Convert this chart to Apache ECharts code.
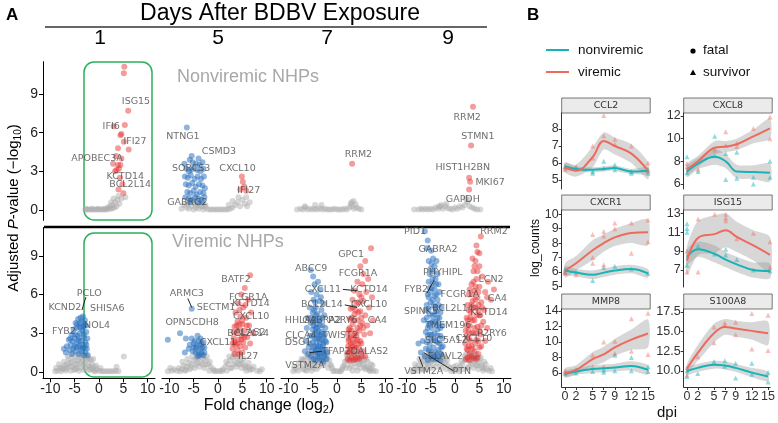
<!DOCTYPE html>
<html><head><meta charset="utf-8">
<script src="https://cdn.jsdelivr.net/npm/echarts@6/dist/echarts.min.js"></script>
<style>html,body{margin:0;padding:0;background:#fff}#c{width:778px;height:423px}</style>
</head><body><div id="c"></div>
<script>
// ---------------- Panel A data (volcano plots) ----------------
const volcanoDays = ['1','5','7','9'];
const volcanoXTicks = [-10,-5,0,5,10];
const volcanoYTicks = [0,3,6,9];

// Nonviremic, day 1
const n1Gray = [[-2.8,0.05],[-2.4,0.05],[-2,0.05],[-1.6,0.05],[-1.2,0.05],[-0.8,0.05],[-0.4,0.05],[0,0.05],[0.4,0.05],[0.8,0.05],[1.2,0.05],[1.6,0.05],[2,0.1],[2.4,0.1],[2.8,0.15],[3.2,0.2],[3.6,0.3],[2.2,0.3],[2.8,0.4],[3.3,0.6],[3.8,0.8],[4.2,0.5],[4.6,0.9],[2.5,0.6],[3,0.9],[4,1.1],[5.4,1.0],[1.8,0.2],[-2.6,0.1],[-1.4,0.1],[-0.2,0.1],[1.0,0.1]];
const n1Blue = [];
const n1Red = [[5.2,11.1],[5.1,10.6],[6,7.7],[5.3,6.6],[3.0,6.5],[4.6,5.9],[4.4,5.8],[5.1,5.3],[6.1,4.7],[3.9,4.8],[4.6,4.0],[4.4,3.5],[3.9,3.5],[3.6,3.1],[3.3,3.0],[4.3,2.5],[4.8,2.0],[4,1.6],[5.0,1.3],[2.9,3.6],[4.1,3.2],[3.5,4.2]];
const n1Labels = [[7.6,8.4,'ISG15'],[2.5,6.5,'IFI6'],[7.4,5.3,'IFI27'],[-0.4,4.0,'APOBEC3A'],[5.4,2.6,'KCTD14'],[6.4,2.0,'BCL2L14']];

// Nonviremic, day 5
const n5Gray = [[-7,0.4],[-6.5,0.2],[-6,0.1],[-5.5,0.3],[-5,0.05],[-4.5,0.2],[-4,0.1],[-3.5,0.3],[-3,0.05],[-2.5,0.2],[-2,0.05],[-1.5,0.05],[-1,0.05],[-0.5,0.05],[0,0.05],[0.5,0.05],[1,0.05],[1.5,0.05],[2,0.05],[2.5,0.1],[3,0.2],[3.5,0.4],[4,0.6],[4.5,0.3],[5,0.8],[5.5,0.5],[6,0.3],[6.5,0.6],[3,0.7],[4.2,1.0],[5.8,1.0],[2.2,0.4],[-6.2,0.5],[-5.3,0.6],[-4.8,0.5],[-4.3,0.4],[-3.8,0.5],[-3.2,0.3],[-2.6,0.4],[-7.5,0.1]];
const n5Blue = [[-6.4,6.4],[-5.8,3.9],[-5.2,3.7],[-4.5,3.6],[-3.8,3.5],[-3.2,3.7],[-6.5,3.2],[-6,3.0],[-5.5,3.1],[-5,3.3],[-4.3,3.1],[-3.6,3.0],[-3,3.2],[-6.8,2.6],[-6.2,2.5],[-5.6,2.7],[-4.8,2.4],[-4.2,2.6],[-3.5,2.4],[-2.9,2.6],[-6.6,2.0],[-6,1.9],[-5.3,2.1],[-4.6,1.8],[-3.9,2.0],[-3.2,1.9],[-2.7,1.7],[-6.3,1.4],[-5.7,1.3],[-5,1.5],[-4.4,1.2],[-3.7,1.4],[-3,1.3],[-6.7,1.0],[-6,0.9],[-5.3,0.8],[-4.7,1.0],[-4,0.9],[-3.4,0.8],[-2.8,1.0],[-5.8,0.6],[-4.2,0.6],[-3.2,0.6],[-6.9,3.6],[-4,4.0],[-5.4,4.2]];
const n5Red = [[4.9,2.6],[5.1,2.2],[5.4,1.8],[4.6,1.6],[5.8,1.5]];
const n5Labels = [[-7.2,5.7,'NTNG1'],[0.2,4.5,'CSMD3'],[-5.5,3.2,'SORCS3'],[4.0,3.2,'CXCL10'],[6.3,1.5,'IFI27'],[-6.3,0.6,'GABRG2']];

// Nonviremic, day 7
const n7Gray = [[-8.2,0.05],[-7.5,0.1],[-7,0.05],[-6.5,0.2],[-6,0.05],[-5.5,0.1],[-5,0.05],[-4.5,0.1],[-4,0.05],[-3.5,0.15],[-3,0.05],[-2.5,0.1],[-2,0.05],[-1.5,0.05],[-1,0.05],[-0.5,0.1],[0,0.05],[0.5,0.05],[1,0.05],[1.5,0.1],[2,0.05],[2.5,0.2],[3,0.3],[3.5,0.1],[4,0.2],[4.5,0.1],[5,0.05],[3,0.6],[3.4,0.7],[2.8,0.5],[-4.5,0.4],[-3.2,0.4],[-6.6,0.3],[3.8,0.45]];
const n7Blue = [];
const n7Red = [[3.1,3.6]];
const n7Labels = [[4.4,4.3,'RRM2']];

// Nonviremic, day 9
const n9Gray = [[-8.4,0.05],[-7.5,0.05],[-7,0.1],[-6.5,0.05],[-6,0.1],[-5.5,0.05],[-5,0.1],[-4.5,0.05],[-4,0.2],[-3.5,0.1],[-3,0.25],[-2.5,0.1],[-2,0.3],[-1.5,0.15],[-1,0.1],[-0.5,0.05],[0,0.2],[0.5,0.1],[1,0.3],[1.5,0.2],[2,0.4],[2.5,0.6],[3,0.3],[3.5,0.2],[4,0.1],[4.5,0.05],[5.2,0.05],[-2.8,0.4],[-1.8,0.5],[2.2,0.9],[2.7,0.8],[-3.3,0.3]];
const n9Blue = [];
const n9Red = [[3.7,8.0],[3.3,5.0],[2.9,2.5],[3.1,2.2],[2.9,1.6]];
const n9Labels = [[2.5,7.2,'RRM2'],[4.7,5.7,'STMN1'],[1.6,3.3,'HIST1H2BN'],[7.2,2.1,'MKI67'],[1.6,0.85,'GAPDH']];

// Viremic, day 1
const v1Gray = [[-8.5,0.1],[-8,0.3],[-7.5,0.2],[-7,0.5],[-6.5,0.3],[-6,0.7],[-5.5,0.4],[-5,0.9],[-4.5,0.6],[-4,1.1],[-3.5,0.8],[-3,1.2],[-2.5,0.9],[-2,1.0],[-1.5,0.6],[-1,0.4],[-0.5,0.2],[0,0.1],[0.5,0.05],[1,0.05],[1.5,0.05],[2,0.05],[2.5,0.05],[3,0.05],[3.5,0.1],[4,0.05],[-7.8,0.05],[-6.8,0.1],[-5.8,0.1],[-4.8,0.2],[-3.8,0.3],[-2.8,0.3],[-1.8,0.2],[-0.8,0.05],[-6.2,1.0],[-5.2,1.2],[-4.2,1.3],[-3.2,0.5],[-2.2,0.5],[-4.6,0.3],[-5.6,0.8],[-6.6,0.6],[-3.6,1.4],[5.1,1.2],[3.6,0.4],[-1.2,1.0],[-2.6,1.3],
  [-8.2,0.6],[-7.2,0.8],[-6.4,1.2],[-5.4,1.4],[-4.4,0.9],[-3.4,1.0],[-2.4,1.1],[-1.6,0.9],[-0.6,0.5],[-7.6,0.35],[-6.9,0.25],[-5.9,0.45],[-4.9,0.55],[-3.9,0.65],[-2.9,0.7],[-1.9,0.4],[-1.3,0.25],[0.3,0.3],[-9,0.05],[-8.8,0.3],[-5.1,0.15],[-4.1,0.1],[-3.1,0.15],[-2.1,0.15],[-1.1,0.1]];
const v1Blue = [[-3.3,4.3],[-3.8,4.2],[-4.3,4.1],[-2.9,4.0],[-3.5,3.9],[-4.8,3.8],[-3,3.6],[-4,3.5],[-4.6,3.4],[-5.2,3.3],[-3.4,3.2],[-3.9,3.0],[-2.6,3.1],[-5.6,2.9],[-4.4,2.8],[-3.1,2.7],[-5,2.6],[-6.2,2.5],[-3.7,2.4],[-2.8,2.3],[-4.6,2.2],[-5.8,2.1],[-6.6,2.0],[-4,2.0],[-3.3,1.9],[-2.5,1.8],[-5.3,1.8],[-6,1.7],[-4.8,1.6],[-3.6,1.6],[-2.8,1.5],[-6.8,1.5],[-5.6,1.4],[-4.2,1.4],[-3.1,1.3],[-2.3,1.3],[-7.2,1.8],[-5.4,2.4],[-4.1,2.6],[-2.4,2.6],
  [-4.5,3.7],[-3.7,3.4],[-3.1,2.9],[-4.2,2.4],[-3.5,2.1],[-2.9,1.9],[-4.6,1.9],[-5.0,2.0],[-3.8,1.8],[-2.6,2.1],[-5.9,2.6],[-4.9,2.9],[-3.2,3.5],[-2.7,3.6],[-3.9,3.8]];
const v1Red = [];
const v1Labels = [[-2.0,6.1,'PCLO'],[-7.0,5.0,'KCND2'],[1.7,4.9,'SHISA6'],[-7.2,3.1,'FYB2'],[-0.4,3.6,'NOL4']];

// Viremic, day 5
const v5Gray = [[-10.3,0.05],[-9.5,0.1],[-9,0.2],[-8.5,0.1],[-8,0.3],[-7.5,0.2],[-7,0.5],[-6.5,0.4],[-6,0.7],[-5.5,0.6],[-5,0.9],[-4.5,1.0],[-4,1.1],[-3.5,1.2],[-3,1.0],[-2.5,0.9],[-2,0.6],[-1.5,0.4],[-1,0.2],[-0.5,0.1],[0,0.05],[0.5,0.1],[1,0.2],[1.5,0.4],[2,0.6],[2.5,0.9],[3,1.1],[3.5,1.2],[4,1.0],[4.5,0.9],[5,0.7],[5.5,0.5],[6,0.4],[6.5,0.3],[7,0.2],[8,0.1],[8.6,0.05],[-6.8,0.1],[-5.8,0.2],[-4.8,0.3],[-3.8,0.4],[-2.8,0.3],[-1.8,0.1],[-0.8,0.05],[0.8,0.05],[1.8,0.1],[2.8,0.3],[3.8,0.4],[4.8,0.3],[5.8,0.1],[-4.2,0.7],[-3.2,0.6],[3.2,0.6],[4.2,0.6],[-7.8,0.05],
  [-7.3,0.8],[-6.3,1.0],[-5.3,1.2],[-4.3,1.4],[-3.3,1.5],[-2.3,1.2],[-1.7,0.8],[-6.6,0.15],[-5.6,0.35],[-4.6,0.55],[-3.6,0.75],[-2.6,0.55],[1.7,0.8],[2.3,1.2],[3.3,1.4],[4.3,1.3],[5.3,1.0],[6.3,0.7],[7.3,0.4],[2.6,0.3],[3.6,0.7],[4.6,0.6],[5.6,0.3],[6.6,0.15],[-9.8,0.3],[9.0,0.2]];
const v5Blue = [[-5.4,4.9],[-10.3,2.5],[-7.8,3.0],[-6.6,2.6],[-5.4,2.6],[-4.2,2.8],[-3.6,2.6],[-5,2.2],[-4.4,2.0],[-3.8,2.1],[-3.2,1.9],[-6.0,1.8],[-5.2,1.6],[-4.6,1.5],[-4.0,1.6],[-3.4,1.4],[-2.8,1.5],[-6.8,1.5],[-4.8,2.4],[-3.0,2.3],[-5.8,2.1],[-3.9,1.3],
  [-4.0,2.4],[-3.4,2.2],[-4.6,1.9],[-3.6,1.8],[-2.8,1.9],[-5.0,1.9],[-4.2,1.2],[-3.0,1.3]];
const v5Red = [[6.6,7.5],[5.5,6.5],[4.8,6.0],[6.2,5.6],[4.2,5.3],[5.2,5.0],[6.8,4.6],[3.6,4.6],[4.6,4.3],[5.8,4.2],[4.0,3.9],[5.0,3.7],[6.4,3.6],[3.4,3.5],[4.4,3.3],[5.5,3.2],[3.8,3.0],[4.9,2.8],[6.0,2.7],[3.2,2.6],[4.2,2.5],[5.2,2.3],[3.6,2.1],[4.6,2.0],[5.6,1.9],[3.0,1.8],[4.0,1.7],[5.0,1.5],[3.4,1.4],[4.4,1.4],[6.6,2.2],[7.2,3.0],
  [4.0,2.2],[4.8,2.5],[3.4,2.3],[5.4,2.7],[4.4,3.7],[3.8,3.6],[5.0,4.0],[4.4,4.8],[5.6,5.2],[3.2,3.1],[5.9,3.6],[3.0,2.2]];
const v5Labels = [[-6.4,6.1,'ARMC3'],[-0.4,5.0,'SECTM1'],[-8.1,3.8,'OPN5'],[-2.6,3.8,'CDH8'],[0,2.3,'CXCL11'],[3.7,7.2,'BATF2'],[6.2,5.8,'FCGR1A'],[6.8,5.3,'KCTD14'],[6.8,4.3,'CXCL10'],[6.2,3.0,'BCL2L14'],[6.6,3.05,'ALAS2'],[6.2,1.2,'IL27']];

// Viremic, day 7
const v7Gray = [[-9,0.05],[-8.5,0.2],[-8,0.1],[-7.5,0.4],[-7,0.2],[-6.5,0.6],[-6,0.4],[-5.5,0.8],[-5,0.6],[-4.5,1.0],[-4,0.8],[-3.5,1.2],[-3,1.0],[-2.5,1.3],[-2,1.0],[-1.5,0.6],[-1,0.3],[-0.5,0.1],[0,0.05],[0.5,0.05],[1,0.2],[1.5,0.5],[2,0.9],[2.5,1.2],[3,1.0],[3.5,1.3],[4,0.9],[4.5,1.1],[5,0.8],[5.5,0.6],[6,0.4],[6.5,0.3],[7,0.2],[7.5,0.1],[8,0.05],[-8.8,0.4],[-7.8,0.7],[-6.8,0.9],[-5.8,1.1],[-4.8,0.3],[-3.8,0.4],[-2.8,0.5],[-1.8,0.3],[1.8,0.3],[2.8,0.5],[3.8,0.4],[4.8,0.3],[5.8,0.2],[6.8,0.05],[-6.2,0.1],[-5.2,0.1],[-4.2,0.2],[4.2,0.1],[3.2,0.1],
  [-7.3,1.0],[-6.3,1.2],[-5.3,1.4],[-4.3,1.5],[-3.3,1.4],[-2.3,1.2],[-1.6,0.9],[-6.6,0.15],[-5.6,0.35],[-4.6,0.65],[-3.6,0.75],[-2.6,0.7],[1.6,0.8],[2.3,1.4],[3.3,1.5],[4.3,1.4],[5.3,1.2],[6.3,0.8],[7.3,0.5],[2.6,0.3],[3.6,0.7],[4.6,0.6],[5.6,0.35],[6.6,0.15],[-0.8,0.05],[0.8,0.05],[-1.2,0.5],[1.2,0.4],
  [-6.0,1.3],[-5.0,1.3],[-4.0,1.4],[-3.0,1.5],[-2.0,1.3],[2.0,1.3],[3.0,1.4],[4.0,1.5],[5.0,1.4],[6.0,1.0],[-7.0,0.9],[7.0,0.6],[-5.5,1.0],[-4.5,0.8],[-3.5,0.9],[-2.5,1.0],[2.5,0.8],[3.5,0.9],[4.5,0.7],[5.5,0.9]];
const v7Blue = [[-3.9,7.0],[-4.6,6.8],[-5.3,6.2],[-3.4,6.4],[-4.2,6.0],[-4.8,5.6],[-3.6,5.5],[-2.8,5.3],[-5.6,5.0],[-4.4,5.0],[-3.2,4.8],[-5.0,4.6],[-4.0,4.5],[-2.6,4.4],[-6.0,4.2],[-4.6,4.1],[-3.5,4.0],[-5.4,3.8],[-4.2,3.7],[-3.0,3.6],[-2.4,3.4],[-6.2,3.4],[-5.0,3.3],[-3.8,3.2],[-4.6,3.0],[-3.2,2.9],[-5.6,2.8],[-2.7,2.7],[-4.1,2.6],[-6.4,2.4],[-5.0,2.3],[-3.5,2.3],[-4.6,2.0],[-2.9,2.0],[-5.8,1.9],[-3.9,1.8],[-2.4,1.7],[-5.2,1.6],[-4.4,1.5],[-3.3,1.5],[-6.6,1.6],[-2.6,1.4],[-4.9,7.4],[-5.4,7.9],[-3.7,2.6],[-4.3,4.4],
  [-5.2,4.2],[-4.8,3.6],[-4.4,3.4],[-4.0,3.0],[-3.6,2.8],[-3.2,2.5],[-2.8,2.2],[-2.4,2.4],[-5.0,2.8],[-4.6,2.6],[-4.2,2.2],[-3.8,2.0],[-3.4,1.9],[-3.0,1.7],[-2.6,1.2],[-2.2,1.0],[-5.3,1.2],[-4.8,1.0],[-4.4,0.9],[-4.0,1.2],[-3.6,1.1],[-3.2,0.9],[-2.8,0.8],[-5.6,2.2],[-5.9,1.4],[-4.9,1.9],[-4.3,1.7],[-3.7,1.4],[-3.1,3.1],[-2.5,2.9],[-3.5,3.6],[-3.9,4.0],[-4.7,4.8],[-3.0,4.2],[-2.2,2.3],[-2.0,1.5],[-4.1,3.4],[-4.9,3.9],[-3.3,5.8],[-4.5,5.4]];
const v7Red = [[7.0,9.6],[5.8,8.6],[4.8,8.2],[5.4,7.6],[6.4,7.2],[4.2,7.0],[5.2,6.8],[3.6,6.3],[6.0,6.2],[4.6,6.0],[7.2,5.8],[3.2,5.6],[5.4,5.5],[4.0,5.3],[6.6,5.0],[2.8,4.9],[4.8,4.7],[3.6,4.5],[5.8,4.4],[2.6,4.1],[4.2,4.0],[5.2,3.8],[3.2,3.7],[6.2,3.6],[2.4,3.3],[4.6,3.2],[3.8,3.0],[5.6,2.9],[2.8,2.7],[4.2,2.5],[3.3,2.3],[5.0,2.2],[2.3,2.0],[4.0,1.9],[3.0,1.7],[4.6,1.6],[2.5,1.5],[3.6,1.4],[6.8,3.0],[7.4,4.0],
  [2.2,1.0],[2.6,0.9],[3.0,1.1],[3.4,0.9],[3.8,1.0],[4.2,1.1],[4.6,1.0],[5.0,1.2],[2.4,2.4],[2.8,2.2],[3.2,2.0],[3.6,1.9],[4.4,2.1],[4.8,2.4],[5.4,1.6],[2.2,3.0],[2.6,3.4],[3.0,3.2],[3.4,2.8],[3.8,2.4],[4.2,3.4],[4.8,3.6],[5.4,3.4],[2.4,2.6],[3.0,4.2],[3.4,4.0],[3.8,4.8],[4.4,4.6],[5.0,4.2],[2.6,1.8],[4.0,2.8],[5.8,1.2],[4.4,5.4],[5.0,5.8],[3.2,5.0],[2.1,1.5]];
const v7Labels = [[2.9,9.1,'GPC1'],[-5.3,8.0,'ABCC9'],[4.3,7.6,'FCGR1A'],[-2.9,6.4,'CXCL11'],[6.6,6.4,'KCTD14'],[-3.1,5.2,'BCL2L14'],[6.6,5.2,'CXCL10'],[-7.4,4.0,'HHLA2'],[-3.1,4.0,'GABRA2'],[1.2,4.0,'P2RY6'],[8.3,4.0,'CA4'],[-7.4,2.8,'CLCA4'],[-8.0,2.3,'DSG1'],[0.6,2.8,'TWIST2'],[0.6,1.6,'TFAP2D'],[7.4,1.6,'ALAS2'],[-6.6,0.5,'VSTM2A']];

// Viremic, day 9
const v9Gray = [[-8.5,0.1],[-8,0.3],[-7.5,0.5],[-7,0.3],[-6.5,0.8],[-6,0.6],[-5.5,1.0],[-5,0.8],[-4.5,1.2],[-4,1.0],[-3.5,1.3],[-3,1.1],[-2.5,0.9],[-2,0.7],[-1.5,0.5],[-1,0.3],[-0.5,0.2],[0,0.1],[0.5,0.2],[1,0.4],[1.5,0.6],[2,0.9],[2.5,1.1],[3,1.3],[3.5,1.0],[4,1.2],[4.5,0.9],[5,0.7],[5.5,0.5],[6,0.3],[6.5,0.2],[7,0.1],[7.6,0.05],[-8.8,0.05],[-7.8,0.1],[-6.8,0.2],[-5.8,0.2],[-4.8,0.3],[-3.8,0.4],[-2.8,0.3],[-1.8,0.2],[-0.8,0.05],[0.8,0.05],[1.8,0.2],[2.8,0.4],[3.8,0.3],[4.8,0.2],[5.8,0.1],[-6.2,1.1],[-5.2,1.3],[3.2,0.7],[4.4,0.5],
  [-7.3,1.0],[-6.3,1.3],[-5.3,1.5],[-4.3,1.4],[-3.3,1.5],[-2.3,1.2],[-1.6,0.9],[-6.6,0.15],[-5.6,0.4],[-4.6,0.6],[-3.6,0.7],[-2.6,0.6],[1.3,0.8],[2.3,1.4],[3.3,1.5],[4.3,1.4],[5.3,1.1],[6.3,0.6],[7.3,0.3],[2.6,0.3],[3.6,0.6],[4.6,0.5],[5.6,0.3],[-0.3,0.4],[0.3,0.5],[-8.2,0.6],
  [-6.0,1.2],[-5.0,1.4],[-4.0,1.3],[-3.0,1.4],[-2.0,1.1],[2.0,1.2],[3.0,1.0],[4.0,0.8],[5.0,1.0],[6.0,0.8],[-7.0,0.8],[-5.5,0.7],[-4.5,0.9],[-3.5,0.9],[-2.5,1.2],[2.5,0.9],[3.5,1.3],[4.5,1.2]];
const v9Blue = [[-5.6,10.2],[-6.2,10.9],[-4.9,9.4],[-4.2,8.2],[-5.0,8.0],[-3.6,7.6],[-4.6,7.3],[-5.4,7.0],[-3.9,6.8],[-4.8,6.5],[-3.2,6.2],[-5.6,6.0],[-4.2,5.9],[-3.6,5.6],[-5.0,5.4],[-4.4,5.2],[-2.8,5.0],[-6.0,4.8],[-3.8,4.7],[-5.2,4.5],[-4.6,4.3],[-3.2,4.2],[-6.4,4.0],[-4.0,3.9],[-5.4,3.7],[-2.6,3.6],[-4.8,3.4],[-3.6,3.3],[-6.0,3.1],[-4.2,3.0],[-5.6,2.8],[-3.0,2.8],[-4.8,2.5],[-6.6,2.4],[-3.6,2.3],[-5.2,2.1],[-2.5,2.0],[-4.4,1.9],[-6.0,1.8],[-3.4,1.7],[-5.0,1.6],[-7.0,1.5],[-4.0,1.5],[-2.8,1.4],[-7.5,2.2],[-5.8,9.6],[-4.5,8.8],
  [-5.8,5.2],[-5.4,5.8],[-5.0,6.2],[-4.6,5.6],[-4.2,6.4],[-3.8,6.0],[-3.4,5.2],[-3.0,4.6],[-5.8,4.2],[-5.4,4.9],[-5.0,3.8],[-4.6,3.9],[-4.2,4.5],[-3.8,3.6],[-3.4,3.8],[-3.0,3.4],[-2.6,2.6],[-5.6,3.4],[-5.2,2.9],[-4.8,2.9],[-4.4,2.6],[-4.0,2.4],[-3.6,2.8],[-3.2,2.2],[-2.8,1.9],[-5.8,2.3],[-5.4,1.7],[-5.0,1.2],[-4.6,1.0],[-4.2,1.2],[-3.8,1.0],[-3.4,1.2],[-3.0,0.9],[-6.2,1.2],[-5.6,0.9],[-4.4,7.8],[-5.2,7.6],[-4.0,7.2],[-3.4,6.8],[-4.8,8.4],[-5.4,8.6],[-3.8,8.6],[-4.6,6.9],[-5.2,6.5],[-4.0,5.0],[-3.6,4.2]];
const v9Red = [[5.3,10.5],[4.6,9.3],[4.2,8.6],[5.0,8.2],[3.8,7.8],[5.6,7.4],[4.4,7.2],[6.8,7.0],[3.4,6.8],[5.0,6.6],[4.0,6.3],[6.2,6.2],[2.8,6.0],[4.6,5.8],[3.6,5.5],[5.4,5.4],[7.4,5.6],[2.6,5.2],[4.2,5.0],[6.0,4.8],[3.2,4.6],[5.0,4.4],[2.4,4.2],[4.0,4.0],[5.8,3.9],[3.0,3.6],[4.6,3.5],[6.6,3.4],[2.2,3.2],[3.8,3.0],[5.2,2.9],[2.8,2.6],[4.4,2.5],[6.2,2.4],[2.1,2.2],[3.4,2.0],[5.0,1.9],[2.6,1.7],[4.0,1.6],[3.0,1.4],[4.8,1.4],[8.0,6.4],[6.6,5.8],
  [2.2,1.0],[2.6,1.1],[3.0,0.9],[3.4,1.2],[3.8,1.1],[4.2,1.0],[4.6,1.1],[2.4,1.8],[2.8,2.0],[3.2,2.4],[3.6,1.8],[4.2,2.2],[4.8,2.4],[5.4,2.0],[2.4,2.8],[2.8,3.2],[3.4,3.0],[4.0,3.4],[4.4,3.0],[5.0,3.2],[5.4,3.6],[2.6,4.0],[3.2,4.2],[3.6,4.0],[4.4,4.4],[4.8,4.8],[5.2,4.4],[2.8,4.8],[3.4,5.2],[3.8,5.0],[4.2,5.6],[4.8,5.2],[3.0,6.4],[3.6,6.0],[4.2,6.6],[4.8,6.2],[3.8,7.0],[4.6,7.8],[4.0,8.2],[3.6,8.8],[4.4,9.8],[5.0,9.2],[2.4,3.6],[5.6,5.0]];
const v9Labels = [[-8.2,10.9,'PID1'],[8.0,10.9,'RRM2'],[-3.5,9.5,'GABRA2'],[-2.5,7.7,'PHYHIPL'],[7.4,7.2,'LCN2'],[-8.0,6.4,'FYB2'],[1.0,6.0,'FCGR1A'],[8.7,5.7,'CA4'],[-7.0,4.7,'SPINK5'],[-0.4,4.9,'BCL2L14'],[7.0,4.6,'KCTD14'],[-1.4,3.6,'TMEM196'],[7.6,3.0,'P2RY6'],[-1.8,2.4,'SLC5A12'],[3.9,2.6,'CXCL10'],[-2.0,1.2,'ELAVL2'],[-6.4,0.0,'VSTM2A'],[1.4,0.0,'PTN']];

// label leader segments
const v1Segs = [[[-2.7,5.8],[-3.5,4.8]]];
const v5Segs = [[[-6.2,5.7],[-5.4,5.0]]];
const v7Segs = [[[1.2,6.4],[4.1,6.3]],[[1.6,5.2],[4.1,5.0]],[[-5.6,1.5],[-3.1,1.6]]];
const v9Segs = [[[-5.8,6.1],[-4.3,7.1]],[[-7.4,1.2],[-6.6,0.4]],[[-6.4,1.5],[-0.4,0.1]]];

// ---------------- Panel B data (gene trajectories) ----------------
const dpi = [0,2,5,7,9,12,15];
const dpiTicks = [0,2,5,7,9,12,15];

const ccl2VirFit = [5.75,5.55,6.35,7.3,7.0,6.55,5.55];
const ccl2VirSe  = [0.3,0.35,0.6,0.5,0.5,0.55,0.5];
const ccl2NonFit = [5.8,5.65,5.6,5.65,5.7,5.5,5.55];
const ccl2NonSe  = [0.2,0.15,0.15,0.15,0.15,0.15,0.2];
const ccl2VirPts = [[0,5.7],[0,5.6],[2,5.8],[5,6.3],[5,7.0],[7,7.6],[7,8.8],[9,7.4],[9,7.1],[12,7.0],[15,6.0],[15,5.5]];
const ccl2NonPts = [[0,5.8],[2,5.7],[5,5.4],[5,5.5],[7,6.1],[7,5.7],[9,5.9],[9,5.6],[12,5.5],[12,5.4],[15,5.6],[15,5.4]];
const ccl2Ticks = [5,6,7,8];

const cxcl8VirFit = [7.3,8.0,9.2,9.3,9.5,10.2,10.9];
const cxcl8VirSe  = [0.5,0.5,0.6,0.5,0.5,0.6,0.9];
const cxcl8NonFit = [7.1,7.8,8.4,8.0,7.1,7.05,7.0];
const cxcl8NonSe  = [0.5,0.5,0.7,0.6,0.6,0.6,0.8];
const cxcl8VirPts = [[0,7.5],[0,7.8],[2,7.3],[5,9.0],[7,10.6],[7,9.4],[9,9.6],[9,9.3],[12,10.9],[15,11.9],[15,10.0]];
const cxcl8NonPts = [[0,8.4],[0,7.0],[2,7.1],[5,10.2],[5,8.5],[7,6.4],[7,8.7],[9,6.5],[9,8.8],[12,6.0],[12,6.6],[15,8.0],[15,6.6]];
const cxcl8Ticks = [6,8,10,12];

const cxcr1VirFit = [6.1,6.6,7.5,8.0,8.4,8.7,8.75];
const cxcr1VirSe  = [0.5,0.5,0.7,0.6,0.6,0.7,0.9];
const cxcr1NonFit = [6.1,5.95,5.8,5.95,6.1,6.2,5.9];
const cxcr1NonSe  = [0.3,0.25,0.3,0.3,0.3,0.3,0.3];
const cxcr1VirPts = [[0,6.0],[0,5.9],[2,5.8],[5,8.6],[5,7.0],[5,6.6],[7,8.8],[7,8.5],[7,6.5],[9,9.4],[9,9.0],[12,9.4],[12,7.3],[15,9.6],[15,8.1]];
const cxcr1NonPts = [[0,6.2],[0,6.0],[2,6.0],[5,5.4],[7,6.3],[9,6.4],[12,6.2],[15,5.9]];
const cxcr1Ticks = [5,6,7,8,9,10];

const isg15VirFit = [8.0,10.4,10.8,11.2,10.5,9.6,8.6];
const isg15VirSe  = [1.5,1.8,2.0,1.8,1.6,1.6,1.9];
const isg15NonFit = [8.4,9.2,8.7,8.1,7.6,7.0,6.9];
const isg15NonSe  = [0.8,0.8,0.9,0.8,0.8,0.8,0.8];
const isg15VirPts = [[0,6.8],[0,9.0],[2,12.4],[2,6.8],[5,12.9],[7,12.9],[7,12.5],[7,12.2],[9,10.3],[12,10.9],[15,10.0],[15,7.3]];
const isg15NonPts = [[0,11.9],[0,11.4],[0,11.0],[0,7.5],[2,9.5],[5,8.7],[7,9.2],[7,8.6],[9,8.1],[12,7.0],[15,6.9]];
const isg15Ticks = [7,9,11,13];

const mmp8VirFit = [6.0,6.4,7.8,8.4,9.3,10.3,11.1];
const mmp8VirSe  = [0.6,0.6,0.9,1.0,1.1,1.3,1.8];
const mmp8NonFit = [5.9,6.2,6.5,6.6,6.7,6.9,6.4];
const mmp8NonSe  = [0.4,0.4,0.5,0.5,0.5,0.6,0.6];
const mmp8VirPts = [[0,6.3],[0,6.1],[2,6.5],[5,8.3],[5,6.8],[7,10.0],[7,6.8],[9,10.1],[9,8.5],[12,13.0],[12,8.8],[15,13.7],[15,8.4]];
const mmp8NonPts = [[0,5.9],[2,6.0],[5,6.2],[7,6.1],[7,6.4],[9,6.3],[9,8.3],[12,6.3],[12,8.0],[15,6.8],[15,6.2]];
const mmp8Ticks = [6,8,10,12,14];

const s100a8VirFit = [10.3,12.3,14.8,15.6,15.4,15.1,14.8];
const s100a8VirSe  = [0.6,1.0,1.2,1.0,1.0,1.1,1.5];
const s100a8NonFit = [10.0,10.4,10.8,10.7,10.4,9.8,9.3];
const s100a8NonSe  = [0.5,0.5,0.5,0.5,0.5,0.6,0.6];
const s100a8VirPts = [[0,9.5],[0,10.4],[2,11.8],[5,13.6],[5,15.6],[7,16.1],[7,15.8],[9,16.2],[9,14.6],[12,17.3],[12,12.8],[15,17.1],[15,12.6]];
const s100a8NonPts = [[0,9.3],[0,10.0],[2,9.7],[5,11.2],[7,11.3],[7,10.6],[9,9.1],[9,11.0],[12,11.0],[12,9.6],[15,9.8],[15,8.6]];
const s100a8Ticks = [10,12.5,15,17.5];

// ---------------- build chart ----------------
const SANS = '"Liberation Sans", Arial, sans-serif';
const DEJA = '"DejaVu Sans", sans-serif';
const COL_RED = 'rgba(228,40,40,0.58)';
const COL_BLUE = 'rgba(38,112,190,0.65)';
const COL_GRAY = 'rgba(172,172,172,0.6)';
const TEAL = '#16b3b7', SALMON = '#ee6a5e';

const opt = {animation:false, grid:[], xAxis:[], yAxis:[], series:[], graphic:[]};
function addGrid(g, x, y){
  opt.grid.push(g);
  const i = opt.grid.length-1;
  x.gridIndex = i; y.gridIndex = i;
  opt.xAxis.push(x); opt.yAxis.push(y);
  return i;
}

const volcano = [
  {row:0,col:0,gray:n1Gray,blue:n1Blue,red:n1Red,labels:n1Labels,segs:[]},
  {row:0,col:1,gray:n5Gray,blue:n5Blue,red:n5Red,labels:n5Labels,segs:[]},
  {row:0,col:2,gray:n7Gray,blue:n7Blue,red:n7Red,labels:n7Labels,segs:[]},
  {row:0,col:3,gray:n9Gray,blue:n9Blue,red:n9Red,labels:n9Labels,segs:[]},
  {row:1,col:0,gray:v1Gray,blue:v1Blue,red:v1Red,labels:v1Labels,segs:v1Segs},
  {row:1,col:1,gray:v5Gray,blue:v5Blue,red:v5Red,labels:v5Labels,segs:v5Segs},
  {row:1,col:2,gray:v7Gray,blue:v7Blue,red:v7Red,labels:v7Labels,segs:v7Segs},
  {row:1,col:3,gray:v9Gray,blue:v9Blue,red:v9Red,labels:v9Labels,segs:v9Segs}
];
const aLefts = [43,162,281,399], aW = 112;
const dayLabelX = [100,218,327,448];

volcano.forEach(p=>{
  const top = p.row===0 ? 61.7 : 227.5;
  const h = p.row===0 ? 158.7 : 150.9;
  const i = addGrid({left:aLefts[p.col], top:top, width:aW, height:h},
    {type:'value', min:-11.5, max:11.5, splitLine:{show:false},
     axisLine:{show:p.row===1, onZero:false, lineStyle:{color:'#000', width:1}},
     axisTick:{show:p.row===1, customValues:volcanoXTicks, length:4, lineStyle:{color:'#000'}},
     axisLabel:{show:p.row===1, customValues:volcanoXTicks, fontSize:14, color:'#222', margin:4, fontFamily:SANS}},
    {type:'value', min:p.row===0?-0.8:-0.5, max:p.row===0?11.5:11.2, splitLine:{show:false},
     axisLine:{show:p.col===0, onZero:false, lineStyle:{color:'#000', width:1}},
     axisTick:{show:p.col===0, customValues:volcanoYTicks, length:4, lineStyle:{color:'#000'}},
     axisLabel:{show:p.col===0, customValues:volcanoYTicks, fontSize:14, color:'#222', margin:5, fontFamily:SANS}});
  const base = {type:'scatter', xAxisIndex:i, yAxisIndex:i, symbolSize:6, silent:true};
  opt.series.push(Object.assign({}, base, {data:p.gray, itemStyle:{color:COL_GRAY}, z:2}));
  opt.series.push(Object.assign({}, base, {data:p.blue, itemStyle:{color:COL_BLUE}, z:3}));
  opt.series.push(Object.assign({}, base, {data:p.red, itemStyle:{color:COL_RED}, z:3}));
  if (p.segs.length) opt.series.push({type:'lines', coordinateSystem:'cartesian2d', xAxisIndex:i, yAxisIndex:i,
     data:p.segs.map(s=>({coords:s})), lineStyle:{color:'#222', width:1, opacity:1}, silent:true, z:4});
  opt.series.push({type:'scatter', xAxisIndex:i, yAxisIndex:i, symbolSize:1, silent:true, z:5,
     itemStyle:{color:'rgba(0,0,0,0)'}, data:p.labels,
     label:{show:true, position:'inside', formatter:q=>q.data[2], fontSize:9.5, color:'#4a4a4a', fontFamily:DEJA}});
});

// Panel B facets
const facets = [
  {gene:'CCL2', vf:ccl2VirFit, vs:ccl2VirSe, nf:ccl2NonFit, ns:ccl2NonSe, vp:ccl2VirPts, np:ccl2NonPts, ticks:ccl2Ticks, min:4.47, max:8.94},
  {gene:'CXCL8', vf:cxcl8VirFit, vs:cxcl8VirSe, nf:cxcl8NonFit, ns:cxcl8NonSe, vp:cxcl8VirPts, np:cxcl8NonPts, ticks:cxcl8Ticks, min:5.56, max:12.26},
  {gene:'CXCR1', vf:cxcr1VirFit, vs:cxcr1VirSe, nf:cxcr1NonFit, ns:cxcr1NonSe, vp:cxcr1VirPts, np:cxcr1NonPts, ticks:cxcr1Ticks, min:4.95, max:10.3},
  {gene:'ISG15', vf:isg15VirFit, vs:isg15VirSe, nf:isg15NonFit, ns:isg15NonSe, vp:isg15VirPts, np:isg15NonPts, ticks:isg15Ticks, min:5.2, max:13.35},
  {gene:'MMP8', vf:mmp8VirFit, vs:mmp8VirSe, nf:mmp8NonFit, ns:mmp8NonSe, vp:mmp8VirPts, np:mmp8NonPts, ticks:mmp8Ticks, min:4.19, max:14.26},
  {gene:'S100A8', vf:s100a8VirFit, vs:s100a8VirSe, nf:s100a8NonFit, ns:s100a8NonSe, vp:s100a8VirPts, np:s100a8NonPts, ticks:s100a8Ticks, min:7.97, max:17.88, dec:true}
];
const bLefts = [561.7, 683.7], bW = 88.5;
const bTops = [113, 210, 309], bH = [76, 77, 78];
const STRIP_H = 15;

function bandSeries(i, fit, se){
  const lo = fit.map((v,j)=>v-se[j]);
  const hi = fit.map((v,j)=>v+se[j]);
  return {type:'custom', xAxisIndex:i, yAxisIndex:i, silent:true, z:1, clip:true,
    data: dpi.map((d,j)=>[d, lo[j], hi[j]]), encode:{x:0, y:[1,2]},
    renderItem:(params, api)=>{
      if (params.dataIndex !== 0) return null;
      const up = dpi.map((d,j)=>api.coord([d, hi[j]]));
      const dn = dpi.map((d,j)=>api.coord([d, lo[j]])).reverse();
      return {type:'polygon', shape:{points: up.concat(dn), smooth:0.25}, style:{fill:'rgba(150,150,150,0.38)'}};
    }};
}

facets.forEach((f,k)=>{
  const col = k%2, row = Math.floor(k/2);
  const i = addGrid({left:bLefts[col], top:bTops[row], width:bW, height:bH[row]},
    {type:'value', min:-0.6, max:15.4, splitLine:{show:false},
     axisLine:{show:row===2, onZero:false, lineStyle:{color:'#333'}},
     axisTick:{show:row===2, customValues:dpiTicks, length:3, lineStyle:{color:'#333'}},
     axisLabel:{show:row===2, customValues:dpiTicks, fontSize:12.5, color:'#333', margin:3, fontFamily:SANS}},
    {type:'value', min:f.min, max:f.max, splitLine:{show:false},
     axisLine:{show:true, onZero:false, lineStyle:{color:'#333'}},
     axisTick:{show:true, customValues:f.ticks, length:3, lineStyle:{color:'#333'}},
     axisLabel:{customValues:f.ticks, fontSize:12.5, color:'#333', margin:3, fontFamily:SANS,
       formatter: f.dec ? (v=>Number(v).toFixed(1)) : (v=>String(v))}});
  opt.series.push(bandSeries(i, f.nf, f.ns));
  opt.series.push(bandSeries(i, f.vf, f.vs));
  [[f.nf, f.np, TEAL, 'rgba(22,179,183,0.6)'], [f.vf, f.vp, SALMON, 'rgba(238,106,94,0.55)']].forEach(g=>{
    opt.series.push({type:'scatter', xAxisIndex:i, yAxisIndex:i, symbol:'triangle', symbolSize:5, silent:true, z:2,
      itemStyle:{color:g[3]}, data:g[1]});
    opt.series.push({type:'line', xAxisIndex:i, yAxisIndex:i, smooth:0.4, symbol:'none', silent:true, z:3,
      lineStyle:{color:g[2], width:2}, data:dpi.map((d,j)=>[d, g[0][j]])});
  });
  // strip
  opt.graphic.push({type:'rect', shape:{x:bLefts[col], y:bTops[row]-STRIP_H, width:bW, height:STRIP_H},
    style:{fill:'#ebebeb', stroke:'#555', lineWidth:0.8}, silent:true});
  opt.graphic.push({type:'text', x:bLefts[col]+bW/2, y:bTops[row]-STRIP_H/2, silent:true,
    style:{text:f.gene, fontSize:9.5, fill:'#333', fontFamily:DEJA, align:'center', verticalAlign:'middle'}});
});

// Panel A decorations
const G = opt.graphic;
G.push({type:'text', x:6, y:15, style:{text:'A', fontSize:17, fontWeight:'bold', fill:'#000', fontFamily:SANS, verticalAlign:'middle'}});
G.push({type:'text', x:280, y:14, style:{text:'Days After BDBV Exposure', fontSize:23, fill:'#000', fontFamily:SANS, align:'center', verticalAlign:'middle'}});
G.push({type:'line', shape:{x1:45, y1:27, x2:487, y2:27}, style:{stroke:'#333', lineWidth:1.5}});
volcanoDays.forEach((d,c)=>G.push({type:'text', x:dayLabelX[c], y:38, style:{text:d, fontSize:21, fill:'#000', fontFamily:SANS, align:'center', verticalAlign:'middle'}}));
G.push({type:'text', x:177, y:77, style:{text:'Nonviremic NHPs', fontSize:18, fill:'#a8a8a8', fontFamily:SANS, verticalAlign:'middle'}});
G.push({type:'text', x:172, y:242, style:{text:'Viremic NHPs', fontSize:18, fill:'#a8a8a8', fontFamily:SANS, verticalAlign:'middle'}});
G.push({type:'rect', shape:{x:84, y:62, width:68, height:158, r:10}, style:{fill:'none', stroke:'#2bb05a', lineWidth:1.5}});
G.push({type:'rect', shape:{x:84, y:233, width:68, height:144, r:10}, style:{fill:'none', stroke:'#2bb05a', lineWidth:1.5}});
G.push({type:'line', shape:{x1:44, y1:227, x2:510, y2:227}, style:{stroke:'#000', lineWidth:2.5}});
G.push({type:'text', x:14, y:208, rotation:Math.PI/2,
  style:{text:'{a|Adjusted }{i|P}{a|-value (−log}{s|10}{a|)}', align:'center', verticalAlign:'middle',
    rich:{a:{fontSize:15, fill:'#000', fontFamily:SANS}, i:{fontSize:15, fontStyle:'italic', fill:'#000', fontFamily:SANS},
          s:{fontSize:10, fill:'#000', fontFamily:SANS, padding:[8,0,0,0]}}}});
G.push({type:'text', x:269, y:406,
  style:{text:'{a|Fold change (log}{s|2}{a|)}', align:'center', verticalAlign:'middle',
    rich:{a:{fontSize:16, fill:'#000', fontFamily:SANS}, s:{fontSize:11, fill:'#000', fontFamily:SANS, padding:[8,0,0,0]}}}});

// Panel B decorations
G.push({type:'text', x:527, y:15, style:{text:'B', fontSize:17, fontWeight:'bold', fill:'#000', fontFamily:SANS, verticalAlign:'middle'}});
G.push({type:'line', shape:{x1:546, y1:50, x2:569, y2:50}, style:{stroke:TEAL, lineWidth:2}});
G.push({type:'line', shape:{x1:546, y1:72, x2:569, y2:72}, style:{stroke:SALMON, lineWidth:2}});
G.push({type:'text', x:578, y:50, style:{text:'nonviremic', fontSize:13.5, fill:'#111', fontFamily:SANS, verticalAlign:'middle'}});
G.push({type:'text', x:578, y:72, style:{text:'viremic', fontSize:13.5, fill:'#111', fontFamily:SANS, verticalAlign:'middle'}});
G.push({type:'circle', shape:{cx:693, cy:51, r:2.6}, style:{fill:'#000'}});
G.push({type:'polygon', shape:{points:[[690,75],[696,75],[693,69.5]]}, style:{fill:'#000'}});
G.push({type:'text', x:703, y:50, style:{text:'fatal', fontSize:13.5, fill:'#111', fontFamily:SANS, verticalAlign:'middle'}});
G.push({type:'text', x:703, y:72, style:{text:'survivor', fontSize:13.5, fill:'#111', fontFamily:SANS, verticalAlign:'middle'}});
G.push({type:'text', x:536, y:248, rotation:Math.PI/2, style:{text:'log_counts', fontSize:12, fill:'#111', fontFamily:SANS, align:'center', verticalAlign:'middle'}});
G.push({type:'text', x:667, y:413, style:{text:'dpi', fontSize:15, fill:'#111', fontFamily:SANS, align:'center', verticalAlign:'middle'}});

const chart = echarts.init(document.getElementById('c'), null, {renderer:'canvas'});
chart.setOption(opt);
</script>
</body></html>
